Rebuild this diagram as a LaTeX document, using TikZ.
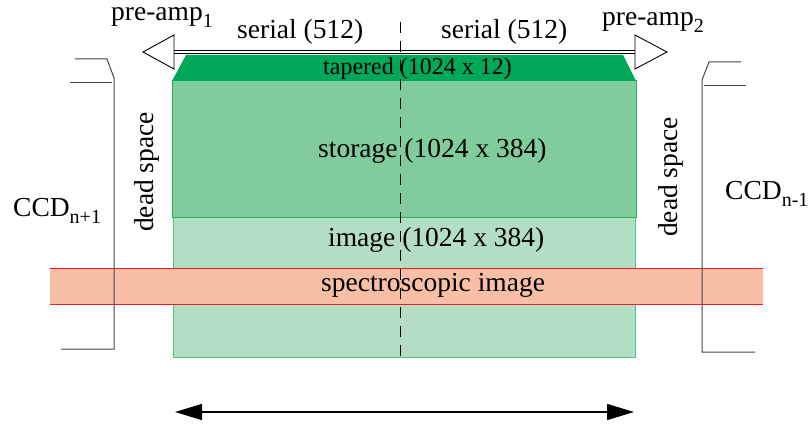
\documentclass[tikz,border=0pt]{standalone}
\usepackage{fontspec}
\setmainfont{Liberation Serif}
\usetikzlibrary{arrows.meta}

\definecolor{taperg}{RGB}{0,168,90}
\definecolor{storeg}{RGB}{128,204,156}
\definecolor{imageg}{RGB}{179,222,195}
\definecolor{edgeg}{RGB}{40,180,100}
\definecolor{spec}{RGB}{248,191,166}
\definecolor{specedge}{RGB}{235,30,40}
\definecolor{ccdline}{RGB}{70,70,70}

% lowered index in text size
\newcommand{\lowidx}[1]{\raisebox{-7pt}{\fontsize{20}{20}\selectfont #1}}

\tikzset{
  lbl/.style={font=\fontsize{27.5}{30}\selectfont, inner sep=0pt, anchor=base west},
  smalllbl/.style={font=\fontsize{24}{26}\selectfont, inner sep=0pt, anchor=base west},
  ccd/.style={draw=ccdline, line width=1pt},
  headopen/.style={draw=black, fill=white, line width=0.9pt, line join=miter},
}

\begin{document}
\begin{tikzpicture}[x=1pt, y=-1pt]
  \useasboundingbox (0,0) rectangle (812,425);

  % CCD sections
  \fill[imageg] (173,218) rectangle (635,357);
  \draw[edgeg!80, line width=1pt] (173,218) rectangle (635,357);
  \fill[storeg] (172,81) rectangle (636,218);
  \draw[edgeg, line width=1pt] (172,218) -- (172,81) -- (636,81) -- (636,218) -- cycle;
  \fill[taperg] (172,81) -- (186,55) -- (623,55) -- (636,81) -- cycle;

  % spectroscopic band across the chips
  \fill[spec] (50,268) rectangle (763,304);
  \draw[specedge, line width=1pt] (50,268) -- (763,268);
  \draw[specedge, line width=1pt] (50,304) -- (763,304);

  % neighbouring CCD outlines
  \draw[ccd] (75,59) -- (107,59) -- (114,78) -- (114,349) -- (61,349);
  \draw[ccd] (70,83) -- (112,83);
  \draw[ccd] (741,62) -- (709,62) -- (702,80) -- (702,352) -- (755,352);
  \draw[ccd] (704,86) -- (746,86);

  % serial register and output amplifiers
  \coordinate (serL) at (174,52);
  \coordinate (serR) at (635,52);
  \draw[double=white, double distance=2.4pt, line width=0.8pt] (serL) -- (serR);
  \draw[headopen] (serL) ++(0,-17) -- (143,52) -- ++(31,17) -- cycle;
  \draw[headopen] (serR) ++(0,-17) -- (667,52) -- ++(-32,17) -- cycle;

  % centre split
  \draw[black, line width=0.9pt, dash pattern=on 11pt off 8pt] (400,22) -- (400,356);

  % labels
  \node[lbl] (pa1) at (111,21) {pre-amp\lowidx{1}};
  \node[lbl] (pa2) at (602,26) {pre-amp\lowidx{2}};
  \node[lbl] (serl) at (237,39) {serial (512)};
  \node[lbl] (serr) at (441,39) {serial (512)};
  \node[smalllbl] (tap) at (323,75) {tapered (1024 x 12)};
  \node[lbl] (sto) at (318,158) {storage (1024 x 384)};
  \node[lbl] (img) at (328,247) {image (1024 x 384)};
  \node[lbl] (spc) at (321,291) {spectroscopic image};
  \node[lbl] (ccdl) at (13,217) {CCD\lowidx{n+1}};
  \node[lbl] (ccdr) at (725,200) {CCD\lowidx{n-1}};
  \node[lbl, rotate=90] (dsl) at (153,232) {dead space};
  \node[lbl, rotate=90] (dsr) at (677,237) {dead space};

  % width marker
  \coordinate (wL) at (175,412);
  \coordinate (wR) at (634,412);
  \draw[line width=1.2pt, {Triangle[length=27pt,width=16pt]}-{Triangle[length=27pt,width=16pt]}] (wL) -- (wR);
\end{tikzpicture}
\end{document}
